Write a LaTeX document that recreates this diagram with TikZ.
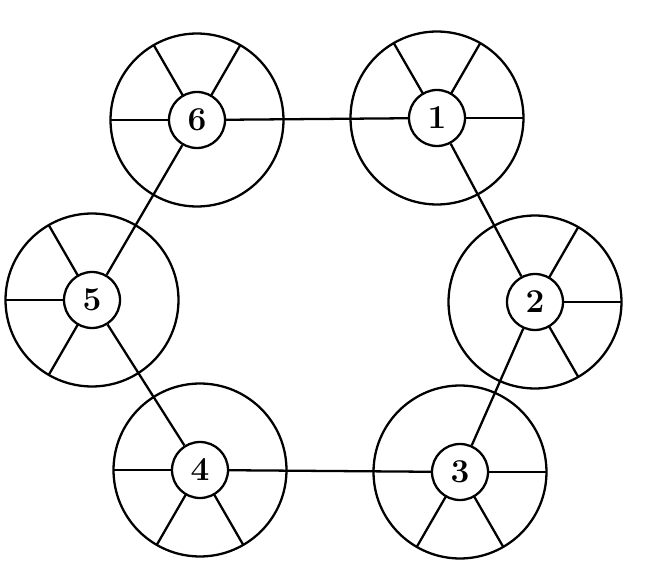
\documentclass[tikz,border=0pt]{standalone}
\usetikzlibrary{calc}
\begin{document}
\begin{tikzpicture}[x=0.02cm, y=-0.02cm, line width=1.3pt,
  hub/.style={circle, draw, fill=white, minimum size=1.12cm, inner sep=0pt,
              font=\fontsize{19}{21}\selectfont\bfseries}]
  \useasboundingbox (0,0) rectangle (650,571);
  % wheels: label/x/y/direction from the middle of the ring
  \foreach \n/\x/\y/\a in {1/437/118/60, 2/535/302/0, 3/460/472/-60,
                           4/200/470/-120, 5/92/300/180, 6/197/120/120}{
    \draw (\x,\y) circle[radius=1.73cm];
    \node[hub] (h\n) at (\x,\y) {\n};
    % outer spokes
    \foreach \s [evaluate=\s as \b using int(\a+\s)] in {-60,0,60}{
      \draw ($(h\n)+(\b:0.56cm)$) -- ($(h\n)+(\b:1.73cm)$);
    }
  }
  % axles between the hubs
  \foreach \i/\j in {1/2, 2/3, 3/4, 4/5, 5/6, 6/1}{
    \draw (h\i) -- (h\j);
  }
\end{tikzpicture}
\end{document}
